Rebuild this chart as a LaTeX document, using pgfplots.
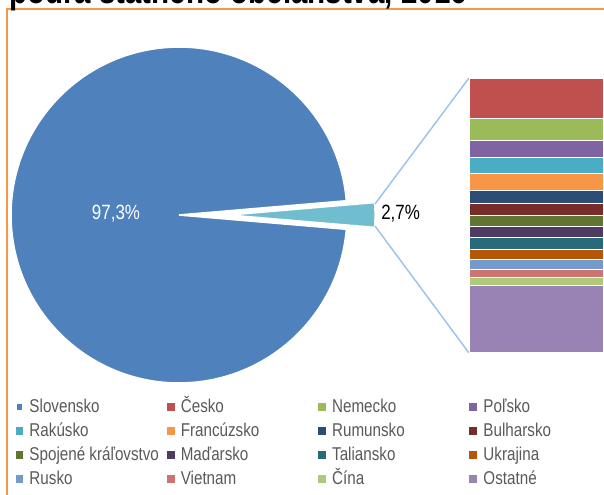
\documentclass[border=0pt]{standalone}
\usepackage{pgfplots}
\pgfplotsset{compat=1.18}
\usepackage{fontspec}
\setmainfont{Liberation Sans}[FakeStretch=0.82]

\definecolor{slov}{HTML}{4F81BD}
\definecolor{wedge}{RGB}{112,189,208}
\definecolor{cesko}{HTML}{C0504D}
\definecolor{nemecko}{HTML}{9BBB59}
\definecolor{polsko}{HTML}{8064A2}
\definecolor{rakusko}{HTML}{4BACC6}
\definecolor{francuzsko}{HTML}{F79646}
\definecolor{rumunsko}{HTML}{2C4D75}
\definecolor{bulharsko}{HTML}{772C2A}
\definecolor{uk}{HTML}{5F7530}
\definecolor{madarsko}{HTML}{4D3B62}
\definecolor{taliansko}{HTML}{276A7C}
\definecolor{ukrajina}{HTML}{B65708}
\definecolor{rusko}{HTML}{729ACA}
\definecolor{vietnam}{HTML}{CD7371}
\definecolor{cina}{HTML}{AFC97A}
\definecolor{ostatne}{HTML}{9983B5}
\definecolor{conn}{RGB}{157,195,230}
\definecolor{frame}{HTML}{F79646}
\definecolor{legtext}{HTML}{595959}

% shares in percent
\def\slovval{97.3}
\def\restval{2.7}
\pgfmathsetmacro{\half}{3.6*\restval/2}

\begin{document}
\begin{tikzpicture}[x=0.75pt,y=-0.75pt]
% frame and (cut off) title
\draw[frame, line width=1.5pt] (7,9.5) rectangle (720,620);
\node[anchor=base west, inner sep=0pt, font=\bfseries\fontsize{27}{30}\selectfont] at (9,4) {podľa štátneho občianstva, 2016};

% canvas axis in pixel units: pie, labels, legend
\begin{axis}[at={(0pt,0pt)}, anchor=north west, scale only axis,
  width=453pt, height=371.25pt,
  xmin=0, xmax=604, ymin=0, ymax=495, y dir=reverse,
  hide axis, clip=false,
  legend columns=4,
  legend image code/.code={\fill[#1] (0pt,-2.6pt) rectangle (5.2pt,2.6pt);},
  legend style={at={(axis cs:15.5,395)}, anchor=north west, draw=none, fill=none,
    inner sep=0pt, outer sep=0pt, row sep=0pt, text=legtext,
    font=\fontsize{13.9}{16}\selectfont,
    nodes={inner sep=0pt, text height=10.5pt, text depth=3pt, minimum height=18pt},
    /tikz/every odd column/.append style={column sep=4.9pt}}]

\fill[slov, draw=white, line width=1.2pt] (axis cs:179,215) -- ++(\half:126pt)
  arc[start angle=\half, end angle=360-\half, radius=126pt] -- cycle;
\fill[wedge, draw=white, line width=1pt] (axis cs:230,215) -- ++(-\half:108.75pt)
  arc[start angle=-\half, end angle=\half, radius=108.75pt] -- cycle;
\draw[conn, line width=1.1pt] (axis cs:375,204) -- (axis cs:469,78);
\draw[conn, line width=1.1pt] (axis cs:375,226) -- (axis cs:469,353);

\node[text=white, font=\fontsize{15.5}{18}\selectfont] at (axis cs:116,214) {97,3\%};
\node[anchor=west, inner sep=0pt, font=\fontsize{15.5}{18}\selectfont] at (axis cs:381,214) {2,7\%};

\addlegendimage{slov, legend image code/.code={\fill[slov] (1pt,-1.8pt) rectangle (4.4pt,1.8pt);}}
\addlegendentry{\makebox[103pt][l]{Slovensko}}
\addlegendimage{cesko}\addlegendentry{\makebox[103pt][l]{Česko}}
\addlegendimage{nemecko}\addlegendentry{\makebox[103pt][l]{Nemecko}}
\addlegendimage{polsko}\addlegendentry{\makebox[103pt][l]{Poľsko}}
\addlegendimage{rakusko}\addlegendentry{\makebox[103pt][l]{Rakúsko}}
\addlegendimage{francuzsko}\addlegendentry{\makebox[103pt][l]{Francúzsko}}
\addlegendimage{rumunsko}\addlegendentry{\makebox[103pt][l]{Rumunsko}}
\addlegendimage{bulharsko}\addlegendentry{\makebox[103pt][l]{Bulharsko}}
\addlegendimage{uk}\addlegendentry{\makebox[103pt][l]{Spojené kráľovstvo}}
\addlegendimage{madarsko}\addlegendentry{\makebox[103pt][l]{Maďarsko}}
\addlegendimage{taliansko}\addlegendentry{\makebox[103pt][l]{Taliansko}}
\addlegendimage{ukrajina}\addlegendentry{\makebox[103pt][l]{Ukrajina}}
\addlegendimage{rusko}\addlegendentry{\makebox[103pt][l]{Rusko}}
\addlegendimage{vietnam}\addlegendentry{\makebox[103pt][l]{Vietnam}}
\addlegendimage{cina}\addlegendentry{\makebox[103pt][l]{Čína}}
\addlegendimage{ostatne}\addlegendentry{\makebox[103pt][l]{Ostatné}}
\end{axis}

% bar of the 2,7 % share, top to bottom
\begin{axis}[at={(351.75pt,-58.5pt)}, anchor=north west, scale only axis,
  width=101.25pt, height=206.25pt,
  xmin=-0.5, xmax=0.5, ymin=0, ymax=2.70, y dir=reverse,
  hide axis, ybar stacked, bar width=101.25pt,
  every axis plot/.append style={draw=white, line width=0.8pt}]
\addplot[fill=cesko] coordinates {(0,0.40)};
\addplot[fill=nemecko] coordinates {(0,0.21)};
\addplot[fill=polsko] coordinates {(0,0.17)};
\addplot[fill=rakusko] coordinates {(0,0.16)};
\addplot[fill=francuzsko] coordinates {(0,0.16)};
\addplot[fill=rumunsko] coordinates {(0,0.13)};
\addplot[fill=bulharsko] coordinates {(0,0.12)};
\addplot[fill=uk] coordinates {(0,0.11)};
\addplot[fill=madarsko] coordinates {(0,0.11)};
\addplot[fill=taliansko] coordinates {(0,0.11)};
\addplot[fill=ukrajina] coordinates {(0,0.10)};
\addplot[fill=rusko] coordinates {(0,0.10)};
\addplot[fill=vietnam] coordinates {(0,0.08)};
\addplot[fill=cina] coordinates {(0,0.08)};
\addplot[fill=ostatne] coordinates {(0,0.66)};
\end{axis}

\pgfresetboundingbox
\path[use as bounding box] (0,0) rectangle (604,495);
\end{tikzpicture}
\end{document}
